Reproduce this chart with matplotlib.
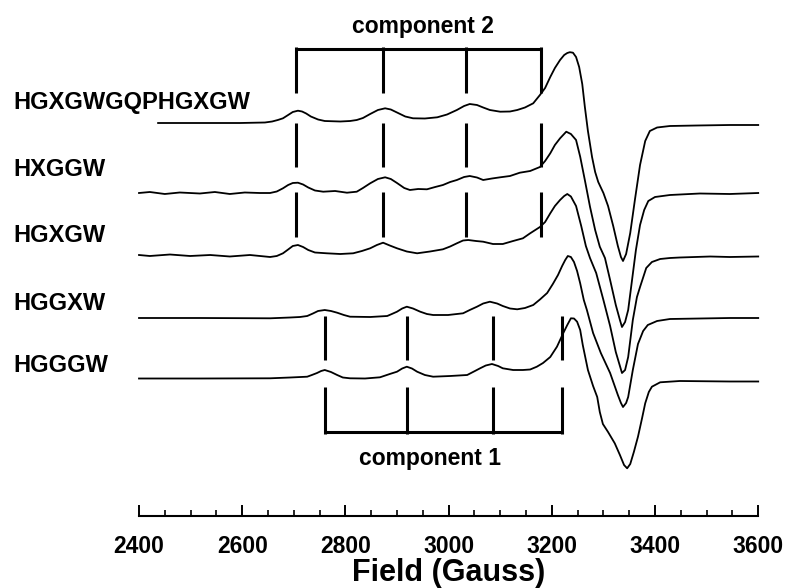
import numpy as np
import matplotlib.pyplot as plt
from matplotlib.ticker import FixedLocator

plt.rcParams['font.family'] = ['Liberation Sans', 'DejaVu Sans']
plt.rcParams['font.weight'] = 'bold'

# EPR spectra: field (Gauss) and signal (arb. units, baseline ~0)
hgxgwgqphgxgw_field = [2437, 2518, 2596, 2644, 2658, 2669, 2679, 2689, 2698, 2708, 2716, 2724,
                       2733, 2747, 2760, 2790, 2809, 2822, 2834, 2848, 2863, 2877, 2888, 2900,
                       2916, 2931, 2954, 2978, 2997, 3016, 3030, 3041, 3055, 3067, 3080, 3100,
                       3119, 3133, 3148, 3164, 3177, 3187, 3197, 3206, 3216, 3224, 3230, 3235,
                       3241, 3247, 3253, 3259, 3264, 3270, 3278, 3284, 3290, 3300, 3309, 3319,
                       3328, 3334, 3338, 3344, 3352, 3361, 3371, 3381, 3390, 3404, 3429, 3481,
                       3545, 3600]
hgxgwgqphgxgw_amp = [2, 2, 2, 2.5, 3.5, 5, 6.7, 10, 13, 14.3, 13.5, 11.5,
                     8.5, 5.5, 4, 3.5, 4, 5, 7, 11, 15, 16.7, 15.5, 12.5,
                     8.5, 6.7, 6.5, 7.7, 10.5, 15, 19, 21, 20, 17.5, 15, 13.3,
                     13.5, 15, 17.5, 21.7, 30, 37, 48, 57, 65, 70, 72, 72.8,
                     72.3, 68, 58, 41, 18.3, -6, -32, -47, -57, -68, -81, -101,
                     -121, -132, -136, -129, -108, -75, -40, -16, -6, -2.5, -1, -0.5,
                     0, 0]

hxggw_field = [2400, 2421, 2450, 2479, 2518, 2547, 2576, 2605, 2634, 2654, 2667, 2679,
               2689, 2698, 2708, 2718, 2728, 2741, 2757, 2780, 2803, 2822, 2834, 2848,
               2863, 2877, 2888, 2900, 2914, 2925, 2941, 2958, 2974, 2989, 3003, 3016,
               3030, 3041, 3055, 3067, 3084, 3100, 3119, 3138, 3158, 3177, 3187, 3197,
               3206, 3216, 3228, 3237, 3247, 3255, 3264, 3274, 3284, 3293, 3303, 3313,
               3324, 3332, 3336, 3342, 3348, 3355, 3363, 3371, 3379, 3387, 3400, 3429,
               3487, 3545, 3600]
hxggw_amp = [0, 1, -1, 0.5, -0.5, 1, -1, 0.5, 0, 0, 1.5, 4.7,
             8, 10, 10.3, 8.5, 5.5, 2.5, 1.3, 2, 0.3, 1.3, 5, 9.7,
             14, 15.7, 14, 10, 5, 3, 4, 3.7, 6, 8, 11, 13,
             16, 17, 15.5, 13, 14.5, 15.7, 17, 20.3, 22, 26, 32, 39.7,
             48, 54.7, 61.3, 59, 53, 36.3, 13, -13.7, -37, -53.7, -65, -87,
             -112, -127, -134, -129, -117, -89, -57, -32, -17, -8, -4, -2,
             -0.5, -1, 0]

hgxgw_field = [2400, 2421, 2460, 2499, 2538, 2576, 2615, 2654, 2667, 2679, 2689, 2698,
               2708, 2718, 2728, 2741, 2764, 2790, 2815, 2832, 2848, 2861, 2873, 2886,
               2900, 2919, 2939, 2964, 2989, 3003, 3016, 3028, 3038, 3053, 3067, 3086,
               3105, 3125, 3144, 3158, 3177, 3187, 3197, 3206, 3216, 3224, 3230, 3237,
               3247, 3257, 3266, 3274, 3286, 3300, 3313, 3324, 3332, 3336, 3342, 3348,
               3357, 3365, 3371, 3383, 3394, 3410, 3429, 3448, 3507, 3545, 3600]
hgxgw_amp = [1, 0, 1.5, 0, 1, -0.5, 1, -1, 0, 2.7, 6.5, 10,
             11, 9, 6, 3.5, 2.7, 2, 2.7, 5, 7.7, 11, 13.3, 10.5,
             7.7, 4.5, 2.7, 4.5, 6.7, 9.5, 12.7, 15.5, 16, 15, 14.3, 12,
             12, 15, 17.7, 22.7, 29, 34, 42.7, 50, 56, 60, 62, 59.5,
             50, 30, 10, -2, -17, -44, -70, -96, -110, -117, -114, -101,
             -64, -41, -31, -12, -6, -3, -2, -1.5, -0.5, -1, -0.5]

hggxw_field = [2400, 2518, 2654, 2693, 2712, 2726, 2737, 2747, 2760, 2772, 2784, 2797,
               2809, 2848, 2881, 2890, 2900, 2910, 2919, 2931, 2945, 2958, 2970, 2999,
               3028, 3041, 3055, 3067, 3080, 3094, 3105, 3119, 3133, 3148, 3164, 3177,
               3191, 3202, 3212, 3220, 3226, 3231, 3237, 3243, 3249, 3255, 3262, 3268,
               3280, 3295, 3313, 3328, 3334, 3338, 3344, 3348, 3357, 3367, 3377, 3386,
               3404, 3429, 3545, 3600]
hggxw_amp = [-1, -1, -1.3, -0.5, 0, 1, 3.5, 6, 7, 6, 4.3, 2,
             0.3, 0, 1, 3, 5.3, 8.5, 10.3, 8.5, 5.3, 3, 2, 2,
             3.7, 7, 10.3, 13.5, 15.3, 13.5, 11, 8.5, 7.7, 9, 12, 17.5,
             24, 33, 42, 51, 57, 61, 60, 55, 46, 33.7, 17, 7,
             -16, -36, -56, -78, -86, -90, -86, -80, -53, -27, -14, -8,
             -4, -2, -1, -1]

hgggw_field = [2400, 2518, 2654, 2693, 2726, 2735, 2745, 2753, 2760, 2772, 2784, 2795,
               2809, 2838, 2867, 2886, 2900, 2910, 2919, 2929, 2939, 2954, 2970, 3003,
               3036, 3051, 3061, 3072, 3084, 3096, 3105, 3125, 3144, 3158, 3171, 3183,
               3197, 3210, 3222, 3230, 3237, 3243, 3249, 3255, 3260, 3270, 3280, 3288,
               3293, 3299, 3309, 3322, 3332, 3340, 3346, 3352, 3359, 3367, 3375, 3381,
               3388, 3394, 3410, 3448, 3545, 3600]
hgggw_amp = [1.5, 1.5, 1.7, 2.5, 3.3, 5, 7, 9, 10, 8, 5, 2.5,
             1.7, 1.5, 2.7, 6, 8.3, 11.5, 13.3, 11.5, 8.3, 5, 3.3, 4,
             5, 9, 11.7, 14.5, 16, 14, 11.7, 10, 10, 10.5, 13.3, 17,
             23, 33.3, 46.7, 55, 61.7, 61.5, 58.3, 50, 35, 10, -6, -17,
             -32, -44, -52, -63.3, -75, -85, -88.3, -84, -72, -56.7, -38, -23.3,
             -12, -6.7, -2.3, -1, -1.5, -1.5]

sample_names = ['HGXGWGQPHGXGW', 'HXGGW', 'HGXGW', 'HGGXW', 'HGGGW']
fields = [hgxgwgqphgxgw_field, hxggw_field, hgxgw_field, hggxw_field, hgggw_field]
amps = [hgxgwgqphgxgw_amp, hxggw_amp, hgxgw_amp, hggxw_amp, hgggw_amp]

# hyperfine line positions (Gauss)
component2_lines = [2704, 2873, 3034, 3180]
component1_lines = [2760, 2920, 3087, 3220]

field_ticks = [2400, 2600, 2800, 3000, 3200, 3400, 3600]
field_ticklabels = ['2400', '2600', '2800', '3000', '3200', '3400', '3600']

# layout (vertical stacking on the canvas)
offsets = [463, 395, 332, 271, 208]
label_y = [486, 419, 352, 285, 222]
label_x = 2156

fig = plt.figure(figsize=(7.86, 5.88), dpi=100)
ax = fig.add_axes([0.1112, 0.0, 0.8797, 1.0])
ax.set_xlim(2300, 3640)
ax.set_ylim(0, 588)

for f, a, off in zip(fields, amps, offsets):
    ax.plot(f, np.array(a) + off, color='black', lw=1.3)

for name, y in zip(sample_names, label_y):
    ax.text(label_x, y, name, fontsize=17, fontweight='bold', ha='left', va='center')

# component 2 bracket (top) with drops through traces 1-3
ax.plot([component2_lines[0], component2_lines[-1]], [539, 539], color='black', lw=2.2,
        solid_capstyle='butt')
for g in component2_lines:
    for y0, y1 in [(541, 495), (465, 421), (396, 351)]:
        ax.plot([g, g], [y0, y1], color='black', lw=2.2, solid_capstyle='butt')
ax.text(2950, 562, 'component 2', fontsize=16.5, fontweight='bold', ha='center', va='center')

# component 1 bracket (bottom) with drops through traces 4-5
ax.plot([component1_lines[0], component1_lines[-1]], [156, 156], color='black', lw=2.2,
        solid_capstyle='butt')
for g in component1_lines:
    for y0, y1 in [(272, 228), (201, 154)]:
        ax.plot([g, g], [y0, y1], color='black', lw=2.2, solid_capstyle='butt')
ax.text(2964, 130, 'component 1', fontsize=16.5, fontweight='bold', ha='center', va='center')

# axis
for s in ['left', 'right', 'top']:
    ax.spines[s].set_visible(False)
ax.spines['bottom'].set_position(('data', 72))
ax.spines['bottom'].set_bounds(2400, 3600)
ax.spines['bottom'].set_linewidth(1.5)
ax.set_yticks([])
ax.xaxis.set_major_locator(FixedLocator(field_ticks))
ax.xaxis.set_minor_locator(FixedLocator(np.arange(2400, 3601, 50)))
ax.set_xticklabels(field_ticklabels, fontsize=16.5, fontweight='bold')
ax.tick_params(axis='x', which='major', direction='in', length=8, width=1.4, pad=14)
ax.tick_params(axis='x', which='minor', direction='in', length=4.5, width=1.2)
ax.text(3000, 15, 'Field (Gauss)', fontsize=22, fontweight='bold', ha='center', va='center')

fig.savefig('out.png', dpi=100)
